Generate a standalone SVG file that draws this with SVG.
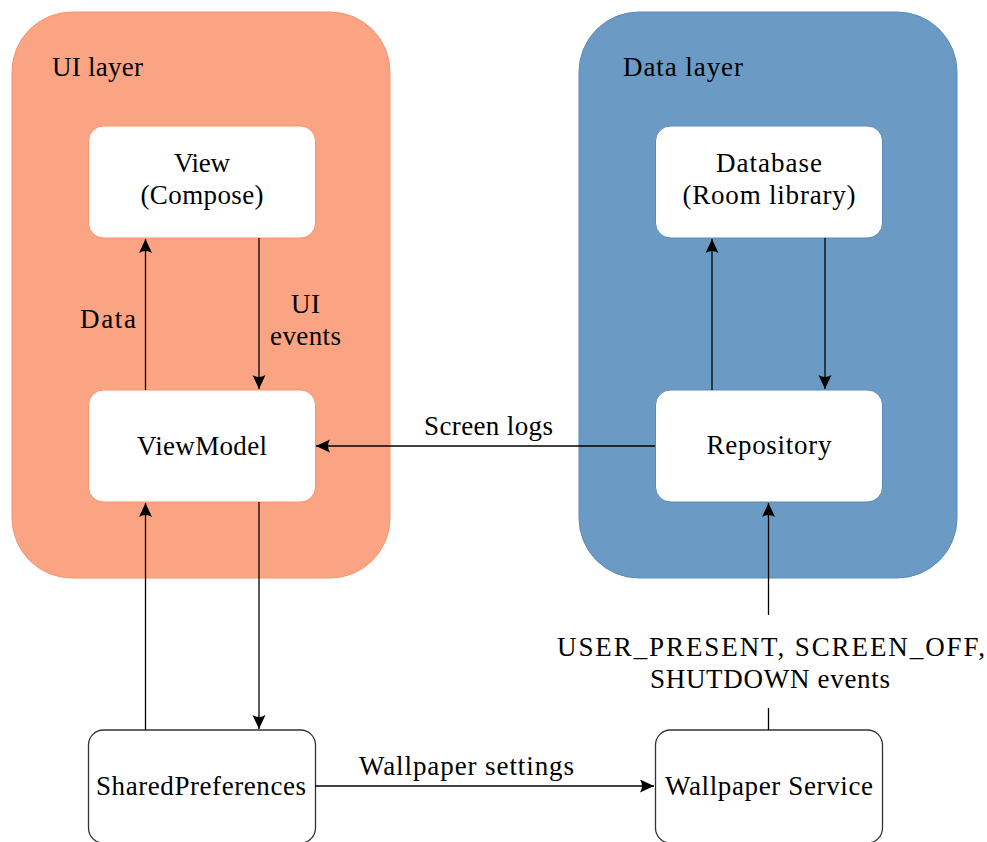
<svg xmlns="http://www.w3.org/2000/svg" width="987" height="842" viewBox="0 0 987 842">
<style>
text{font-family:"Liberation Serif","DejaVu Serif",serif;font-size:27px;fill:#000}
.c{text-anchor:middle}
.ui{fill:#FBA483;stroke:#F6946C;stroke-width:1}
.dl{fill:#6B9BC4;stroke:#5A89B6;stroke-width:1}
.nui{fill:#fff;stroke:#F6946C;stroke-width:1}
.ndl{fill:#fff;stroke:#5A89B6;stroke-width:1}
.nb{fill:#fff;stroke:#333;stroke-width:1.3}
.e{stroke:#000;stroke-width:1.3;fill:none}
.a{marker-end:url(#arr)}
</style>
<defs>
<marker id="arr" markerUnits="userSpaceOnUse" markerWidth="16" markerHeight="14" refX="14" refY="6.5" orient="auto" viewBox="0 0 16 14">
<path d="M0,0 L14,6.5 L0,13 Q4,6.5 0,0 Z" fill="#000"/>
</marker>
</defs>
<rect width="987" height="842" fill="#fff"/>
<g id="ui-layer">
<rect class="ui" x="12" y="12" width="378" height="566" rx="60" ry="60"/>
<text x="52" y="76" textLength="91">UI layer</text>
</g>
<g id="data-layer">
<rect class="dl" x="579" y="12" width="378" height="566" rx="60" ry="60"/>
<text x="623" y="76" textLength="120">Data layer</text>
</g>
<g id="view">
<rect class="nui" x="88.5" y="126" width="227" height="112" rx="15" ry="15"/>
<text class="c" x="202" y="172" textLength="56">View</text>
<text class="c" x="202" y="204" textLength="123">(Compose)</text>
</g>
<g id="viewmodel">
<rect class="nui" x="88.5" y="390" width="227" height="112" rx="15" ry="15"/>
<text class="c" x="202" y="455" textLength="130">ViewModel</text>
</g>
<g id="database">
<rect class="ndl" x="655.5" y="126" width="227" height="112" rx="15" ry="15"/>
<text class="c" x="769" y="172" textLength="106">Database</text>
<text class="c" x="769" y="204" textLength="173">(Room library)</text>
</g>
<g id="repository">
<rect class="ndl" x="655.5" y="390" width="227" height="112" rx="15" ry="15"/>
<text class="c" x="769" y="454" textLength="125">Repository</text>
</g>
<g id="sharedpreferences">
<rect class="nb" x="88.5" y="730" width="227" height="113" rx="15" ry="15"/>
<text class="c" x="201" y="795" textLength="210">SharedPreferences</text>
</g>
<g id="wallpaper-service">
<rect class="nb" x="655.5" y="730" width="227" height="113" rx="15" ry="15"/>
<text class="c" x="769" y="795" textLength="208">Wallpaper Service</text>
</g>
<g id="connectors">
<line class="e a" x1="145.5" y1="390" x2="145.5" y2="239"/>
<line class="e a" x1="259" y1="238" x2="259" y2="389"/>
<line class="e a" x1="655" y1="446" x2="316" y2="446"/>
<line class="e a" x1="712" y1="390" x2="712" y2="239"/>
<line class="e a" x1="825" y1="238" x2="825" y2="389"/>
<line class="e a" x1="145.5" y1="730" x2="145.5" y2="503"/>
<line class="e a" x1="259" y1="502" x2="259" y2="729"/>
<line class="e a" x1="315" y1="786" x2="654" y2="786"/>
<line class="e" x1="768.5" y1="730" x2="768.5" y2="708"/>
<line class="e a" x1="768.5" y1="615" x2="768.5" y2="503"/>
<text x="80" y="328" textLength="56">Data</text>
<text class="c" x="305.5" y="313" textLength="29">UI</text>
<text class="c" x="305.5" y="345" textLength="71">events</text>
<text class="c" x="488.5" y="435" textLength="129">Screen logs</text>
<text class="c" x="466.5" y="775" textLength="215">Wallpaper settings</text>
<text class="c" x="771" y="656" textLength="428">USER_PRESENT, SCREEN_OFF,</text>
<text class="c" x="770" y="688" textLength="240">SHUTDOWN events</text>
</g>
</svg>
